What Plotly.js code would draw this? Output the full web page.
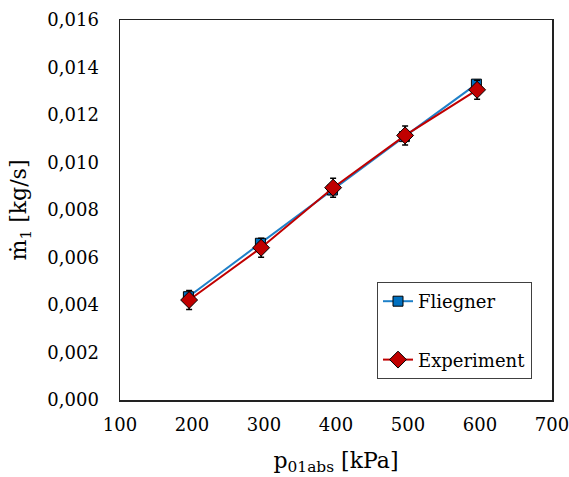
<!DOCTYPE html>
<html>
<head>
<meta charset="utf-8">
<script src="https://cdn.plot.ly/plotly-3.0.1.min.js"></script>
<style>html,body{margin:0;padding:0;background:#fff;}#chart{width:569px;height:477px;}</style>
</head>
<body>
<div id="chart"></div>
<script>
// Data
const fliegnerP = [195, 295, 395, 495, 595];
const fliegnerM = [0.00435, 0.00660, 0.00884, 0.01109, 0.01330];
const experimentP = [196, 296, 396, 496, 596];
const experimentM = [0.00421, 0.00641, 0.00894, 0.01114, 0.01306];
const experimentErr = [0.00040, 0.00040, 0.00040, 0.00040, 0.00040];
const xTicks = [100, 200, 300, 400, 500, 600, 700];
const yTicks = [0, 0.002, 0.004, 0.006, 0.008, 0.010, 0.012, 0.014, 0.016];

const FONT = 'DejaVu Serif, serif';

const traces = [
  {
    x: fliegnerP, y: fliegnerM, name: 'Fliegner', type: 'scatter', mode: 'lines+markers',
    legendgroup: 'a',
    line: {color: '#1F80C8', width: 2},
    marker: {symbol: 'square', size: 10, color: '#0070C0', line: {color: '#000', width: 1}}
  },
  {
    x: experimentP, y: experimentM, name: 'Experiment', type: 'scatter', mode: 'lines+markers',
    legendgroup: 'b',
    line: {color: '#C00000', width: 2},
    marker: {symbol: 'diamond', size: 13, color: '#C00000', line: {color: '#000', width: 1}},
    error_y: {type: 'data', array: experimentErr, visible: true, color: '#000', thickness: 1.5, width: 3}
  }
];

const layout = {
  width: 569, height: 477,
  margin: {l: 120, r: 17, t: 20, b: 77},
  paper_bgcolor: '#fff', plot_bgcolor: '#fff',
  separators: ',.',
  font: {family: FONT, size: 18, color: '#000'},
  showlegend: true,
  legend: {
    x: (377 - 120) / 432, y: (400 - 282) / 380, xanchor: 'left', yanchor: 'top',
    bordercolor: '#404040', borderwidth: 1, bgcolor: '#fff',
    font: {family: FONT, size: 18, color: '#000'},
    itemwidth: 30,
    tracegroupgap: 32
  },
  xaxis: {
    range: [100, 700], tickvals: xTicks, showgrid: false, zeroline: false,
    showline: true, mirror: true, linecolor: '#222', linewidth: 1.5,
    ticks: 'outside', ticklen: 8, tickcolor: 'rgba(0,0,0,0)',
    ticklabeloverflow: 'allow',
    title: {text: 'p<sub>01abs</sub> [kPa]', font: {family: FONT, size: 22}, standoff: 18}
  },
  yaxis: {
    range: [0, 0.016], tickvals: yTicks, tickformat: '.3f', showgrid: false, zeroline: false,
    showline: true, mirror: true, linecolor: '#222', linewidth: 1.5,
    ticks: 'outside', ticklen: 16, tickcolor: 'rgba(0,0,0,0)',
    ticklabeloverflow: 'allow',
    title: {text: 'ṁ<sub>1</sub> [kg/s]', font: {family: FONT, size: 22}, standoff: 14}
  }
};

Plotly.newPlot('chart', traces, layout, {displayModeBar: false, staticPlot: true});
</script>
</body>
</html>
